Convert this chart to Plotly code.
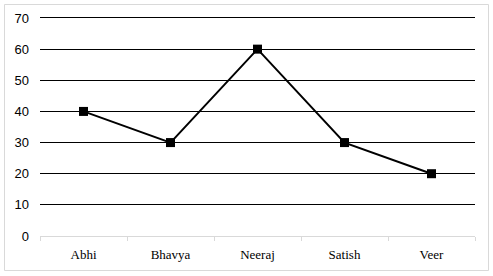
import plotly.graph_objects as go

names = ["Abhi", "Bhavya", "Neeraj", "Satish", "Veer"]
values = [40, 30, 60, 30, 20]
y_ticks = [0, 10, 20, 30, 40, 50, 60, 70]

W, H = 493, 276
L, R, T, B = 40, 18, 18, 40
pw, ph = W - L - R, H - T - B

def px_x(x):
    return (x - L) / pw

def px_y(y):
    return (H - B - y) / ph

fig = go.Figure()
fig.add_trace(go.Scatter(
    x=names, y=values, mode="lines+markers",
    line=dict(color="black", width=2),
    marker=dict(symbol="square", size=9, color="black"),
    cliponaxis=False,
))
# invisible companion trace so the top axis (drawn as the 70 gridline) exists
fig.add_trace(go.Scatter(
    x=names, y=values, xaxis="x2", mode="lines",
    line=dict(width=0), opacity=0, hoverinfo="skip",
))

fig.update_layout(
    width=W, height=H,
    margin=dict(l=L, r=R, t=T, b=B),
    paper_bgcolor="white", plot_bgcolor="white",
    showlegend=False,
    xaxis=dict(
        range=[-0.5, 4.5],
        showgrid=False, showline=True, linecolor="#d9d9d9", linewidth=1,
        ticks="outside", tickson="boundaries", ticklen=4, tickcolor="#d9d9d9",
        tickfont=dict(family="Liberation Serif", size=13, color="black"),
        ticklabelstandoff=6,
        zeroline=False,
    ),
    xaxis2=dict(
        overlaying="x", side="top", range=[-0.5, 4.5],
        showline=True, linecolor="black", linewidth=1,
        showticklabels=False, ticks="", showgrid=False, zeroline=False,
    ),
    yaxis=dict(
        range=[0, max(y_ticks)], tickvals=y_ticks, showgrid=True, gridcolor="black", gridwidth=1,
        zeroline=True, zerolinecolor="#d9d9d9", zerolinewidth=1,
        tickfont=dict(family="Liberation Sans", size=13, color="black"),
        ticks="", ticklabelstandoff=10,
    ),
)
fig.add_shape(
    type="rect", xref="paper", yref="paper",
    x0=px_x(4.5), x1=px_x(488.5), y0=px_y(270.5), y1=px_y(4.5),
    line=dict(color="#d9d9d9", width=1), layer="below",
)

fig.write_html("out.html")
